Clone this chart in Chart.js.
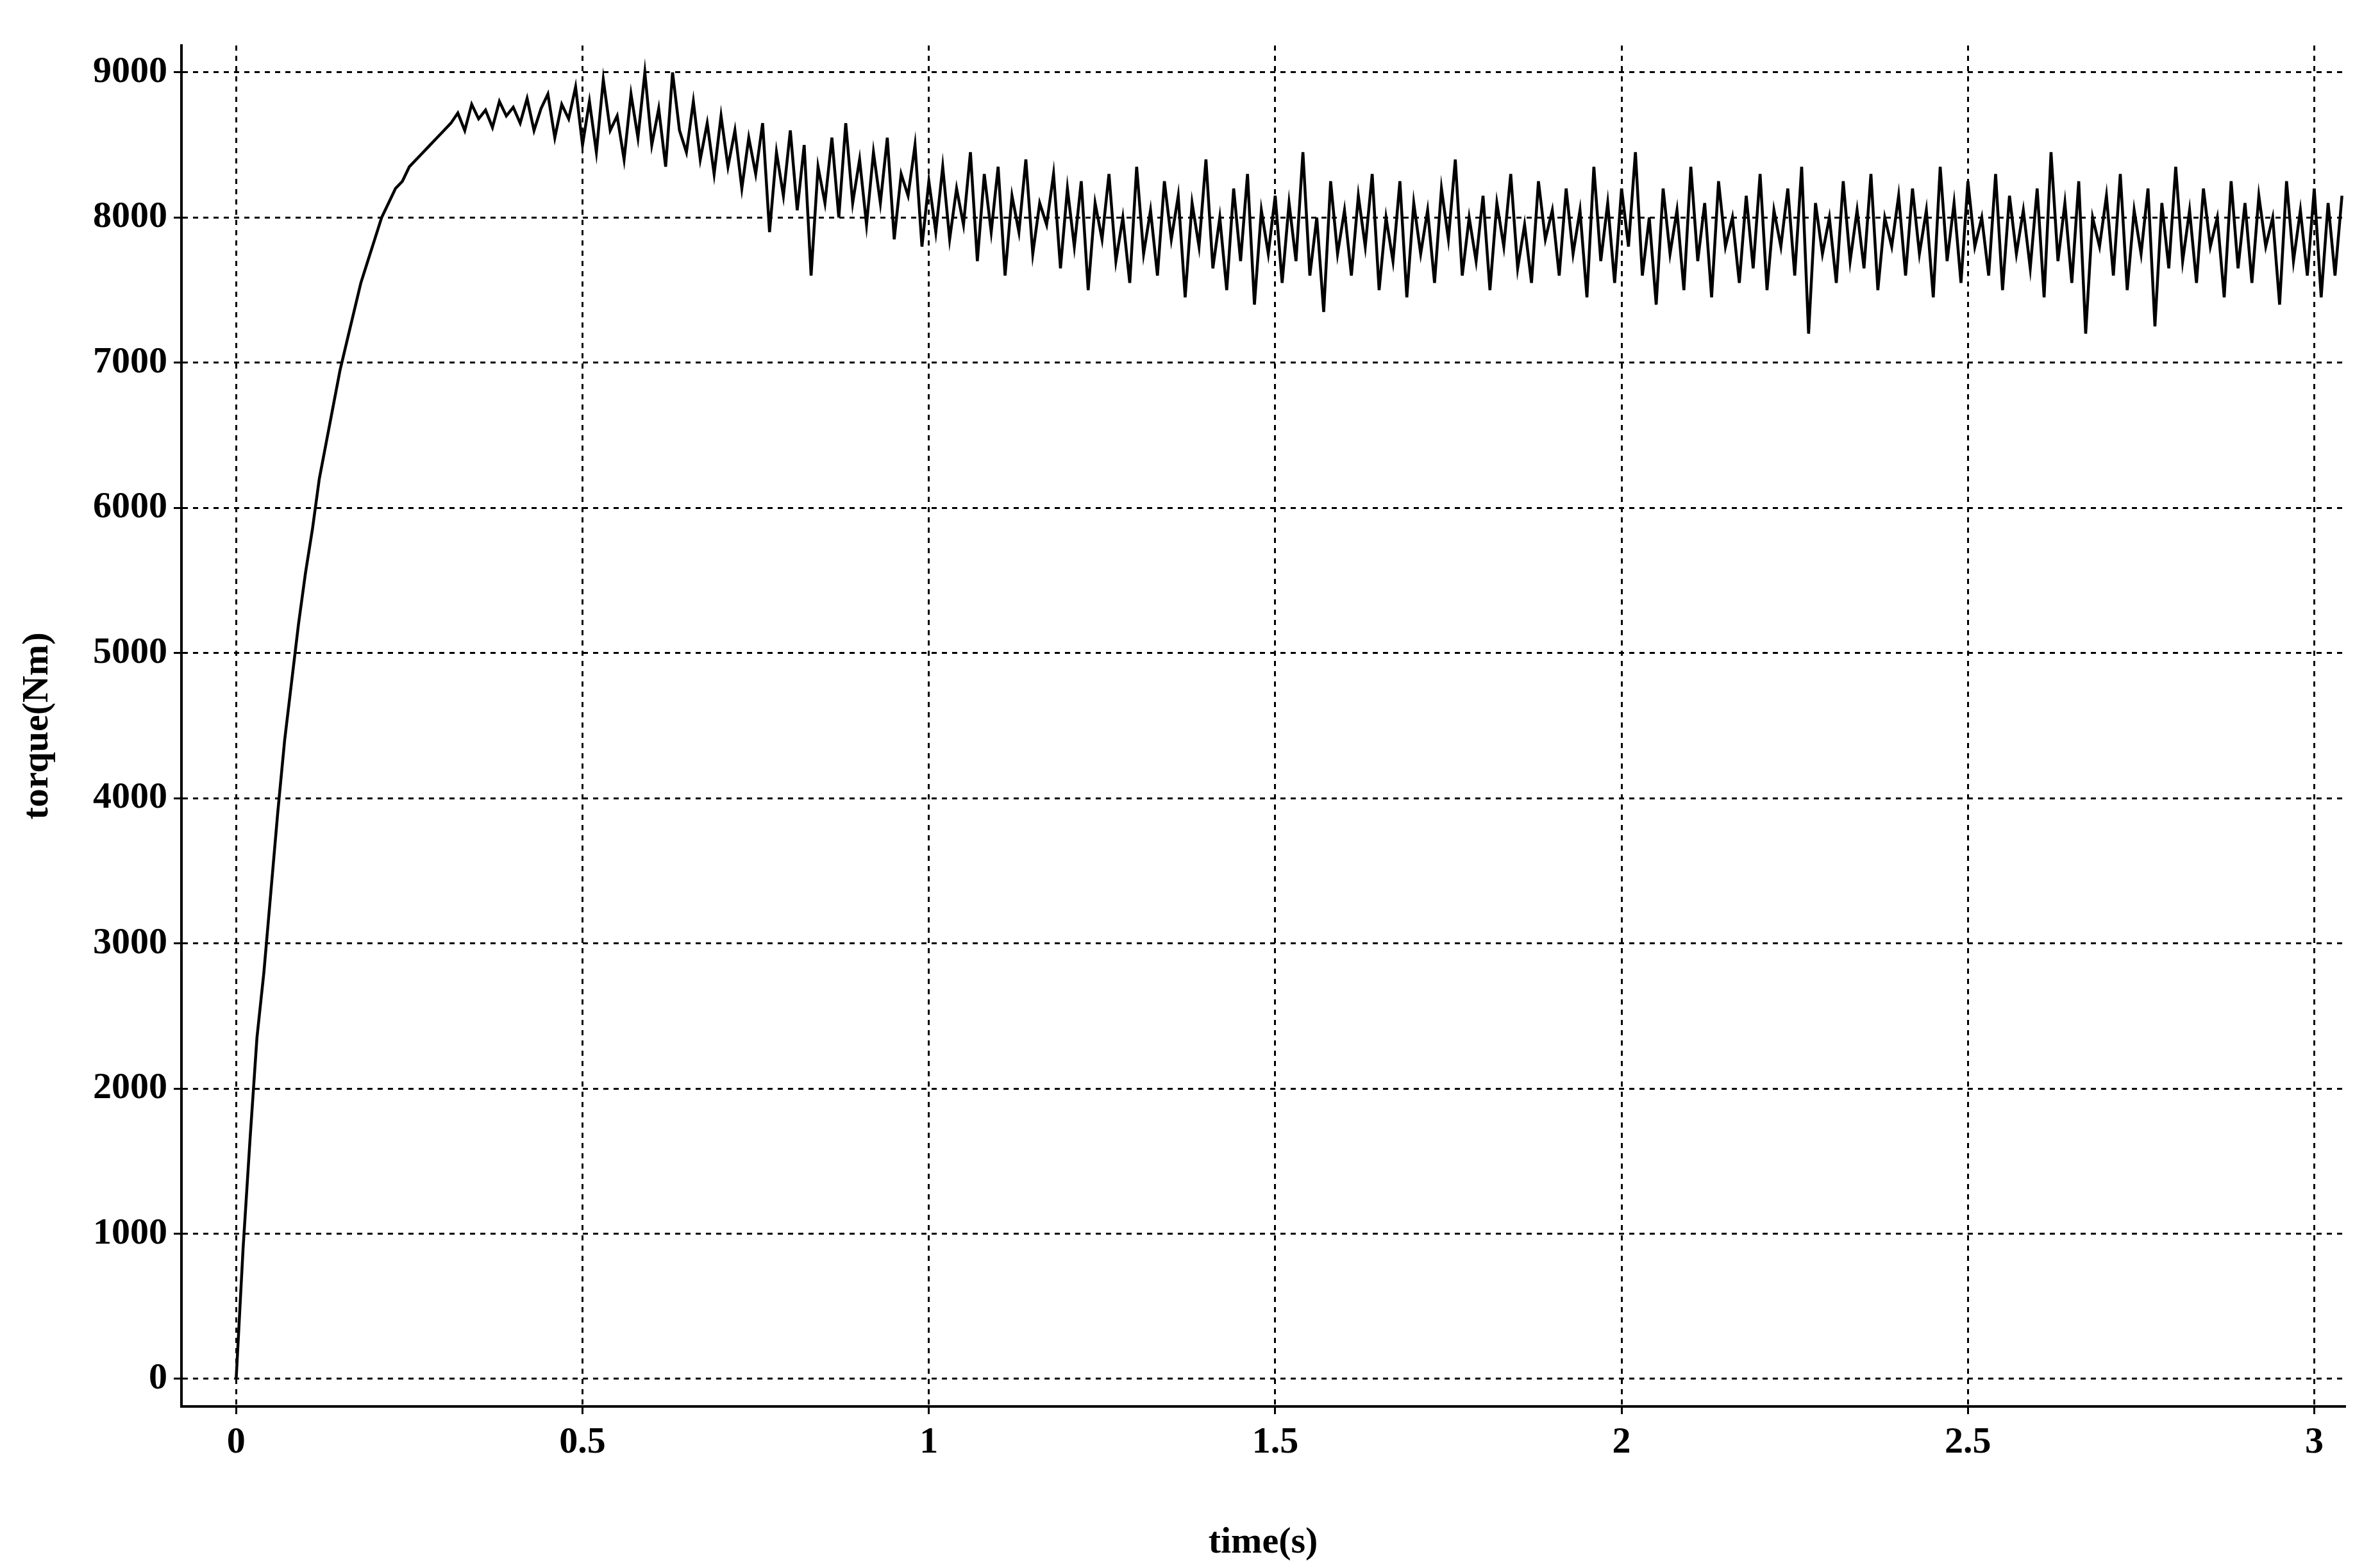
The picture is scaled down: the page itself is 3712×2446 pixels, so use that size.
<!DOCTYPE html>
<html><head><meta charset="utf-8">
<script src="https://cdn.jsdelivr.net/npm/chart.js@4/dist/chart.umd.min.js"></script>
<style>html,body{margin:0;padding:0;background:#fff}#w{width:3712px;height:2446px}</style>
</head><body><div id="w"><canvas id="c"></canvas></div>
<script>
const timeStep = 0.01;
const xTickValues = [0, 0.5, 1, 1.5, 2, 2.5, 3];
const yTickValues = [0,1000,2000,3000,4000,5000,6000,7000,8000,9000];
const torqueRise = [0,900,1650,2350,2800,3350,3900,4400,4800,5200,5550,5850,6200,6450,6700,6950,7150,7350,7550,7700,7850,8000,8100,8200,8250,8350,8400,8450,8500,8550,8600];
const torqueSteady = [
8650,8720,8600,8780,8680,8740,8620,8800,8700,8760,
8650,8820,8600,8750,8850,8550,8780,8680,8900,8500,
8800,8450,8950,8600,8700,8400,8850,8550,9000,8500,
8750,8350,9000,8600,8450,8800,8400,8650,8300,8700,
8350,8600,8200,8550,8300,8650,7900,8450,8150,8600,
8050,8500,7600,8350,8100,8550,8000,8650,8100,8400,
7950,8450,8100,8550,7850,8300,8150,8500,7800,8250,
7900,8350,7850,8200,7950,8450,7700,8300,7900,8350,
7600,8150,7900,8400,7750,8100,7950,8300,7650,8200,
7800,8250,7500,8100,7850,8300,7700,8000,7550,8350,
7750,8050,7600,8250,7850,8150,7450,8100,7800,8400,
7650,8000,7500,8200,7700,8300,7400,8050,7750,8150,
7550,8100,7700,8450,7600,8000,7350,8250,7750,8050,
7600,8150,7800,8300,7500,8000,7700,8250,7450,8100,
7750,8050,7550,8200,7850,8400,7600,8000,7700,8150,
7500,8100,7800,8300,7650,7950,7550,8250,7850,8050,
7600,8200,7750,8050,7450,8350,7700,8100,7550,8200,
7800,8450,7600,8000,7400,8200,7750,8050,7500,8350,
7700,8100,7450,8250,7800,8000,7550,8150,7650,8300,
7500,8050,7800,8200,7600,8350,7200,8100,7750,8000,
7550,8250,7700,8050,7650,8300,7500,8000,7800,8150,
7600,8200,7750,8050,7450,8350,7700,8100,7550,8250,
7800,8000,7600,8300,7500,8150,7750,8050,7650,8200,
7450,8450,7700,8100,7550,8250,7200,8000,7800,8150,
7600,8300,7500,8050,7750,8200,7250,8100,7650,8350,
7700,8050,7550,8200,7800,8000,7450,8250,7650,8100,
7550,8150,7800,8000,7400,8250,7700,8050,7600,8200,
7450,8100,7600,8150];
const torque = torqueRise.concat(torqueSteady);
const points = torque.map((v,i)=>({x:+(i*timeStep).toFixed(2), y:v}));

const F = "'Liberation Serif', 'Times New Roman', serif";
const grid = {color:'#000', lineWidth:3, drawTicks:true, tickLength:12};
const border = {color:'#000', width:4, dash:[8,8]};
new Chart(document.getElementById('c'), {
  type:'line',
  data:{datasets:[{data:points, borderColor:'#000', borderWidth:4.5, pointRadius:0, tension:0}]},
  options:{
    responsive:true, maintainAspectRatio:false, animation:false,
    layout:{padding:{top:71,right:55,left:20,bottom:0}},
    plugins:{legend:{display:false}, tooltip:{enabled:false}},
    scales:{
      x:{type:'linear', min:-0.079, max:3.044,
        afterBuildTicks:a=>{a.ticks=xTickValues.map(v=>({value:v}));},
        afterFit:a=>{a.height=252;},
        grid:grid, border:border,
        ticks:{color:'#000', font:{family:F, size:58, weight:'bold'}, padding:10, maxRotation:0, callback:v=>String(v)},
        title:{display:true, text:'time(s)', color:'#000', font:{family:F, size:58, weight:'bold'}, padding:{top:0}}},
      y:{type:'linear', min:-190, max:9185,
        afterBuildTicks:a=>{a.ticks=yTickValues.map(v=>({value:v}));},
        afterFit:a=>{a.width=263;},
        grid:grid, border:border,
        ticks:{color:'#000', font:{family:F, size:58, weight:'bold'}, padding:10, callback:v=>String(v)},
        title:{display:true, text:'torque(Nm)', color:'#000', font:{family:F, size:58, weight:'bold'}, padding:{bottom:0}}}
    }
  },
  plugins:[{id:'axisLines', afterDraw(c){
    const a=c.chartArea, x=c.ctx; x.save(); x.strokeStyle='#000'; x.lineWidth=4; x.setLineDash([]);
    x.beginPath(); x.moveTo(a.left,a.top); x.lineTo(a.left,a.bottom); x.lineTo(a.right,a.bottom); x.stroke(); x.restore();
  }}]
});
</script></body></html>
